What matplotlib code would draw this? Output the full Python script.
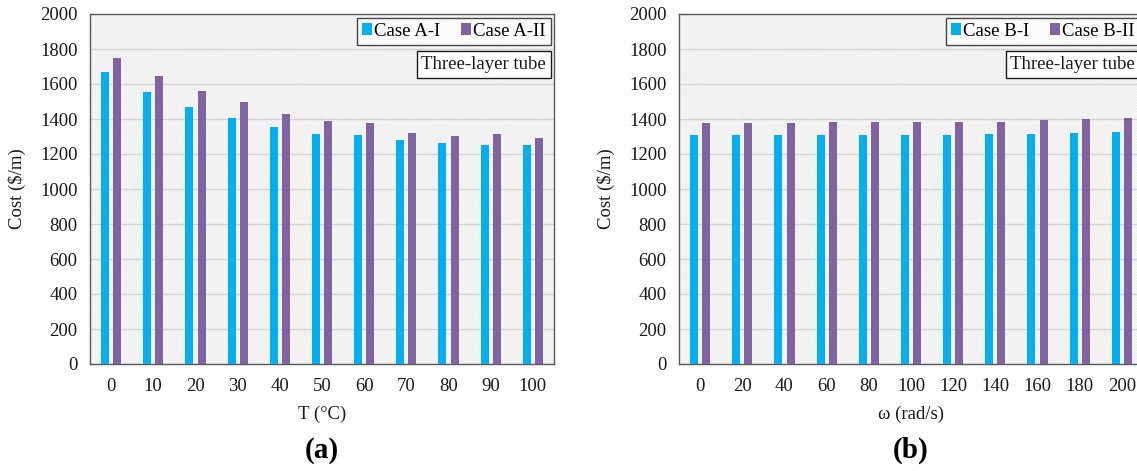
import matplotlib
matplotlib.use("Agg")
import matplotlib.pyplot as plt
from matplotlib.offsetbox import AnchoredText
import numpy as np

plt.rcParams['font.family'] = ['Liberation Serif', 'DejaVu Serif']
plt.rcParams['hatch.linewidth'] = 0.5

# Panel (a): cost vs temperature
temps = ['0', '10', '20', '30', '40', '50', '60', '70', '80', '90', '100']
case_a1 = [1670, 1555, 1470, 1405, 1355, 1315, 1310, 1280, 1260, 1250, 1250]
case_a2 = [1750, 1645, 1560, 1495, 1430, 1390, 1375, 1320, 1300, 1315, 1290]

# Panel (b): cost vs angular velocity
omegas = ['0', '20', '40', '60', '80', '100', '120', '140', '160', '180', '200']
case_b1 = [1310, 1310, 1310, 1310, 1310, 1310, 1310, 1315, 1315, 1320, 1325]
case_b2 = [1375, 1375, 1375, 1380, 1380, 1385, 1385, 1385, 1395, 1400, 1405]

blue = '#00b0f0'
purple = '#8064a2'
ink = '#1a1a1a'
fs = 13.5

W, H = 1137, 471
fig = plt.figure(figsize=(W / 100, H / 100), dpi=100)

def px(x0, y0, x1, y1):
    return [x0 / W, 1 - y1 / H, (x1 - x0) / W, (y1 - y0) / H]

ax_a = fig.add_axes(px(90, 14, 554, 364))
ax_b = fig.add_axes(px(679, 14, 1143, 364))

def draw(ax, cats, s1, s2, names, xlabel, tag):
    x = np.arange(len(cats))
    ax.patch.set_facecolor('#fcfcfc')
    ax.patch.set_hatch('\\' * 12)
    ax.patch.set_edgecolor('#e3e3e3')
    ax.set_axisbelow(True)
    ax.yaxis.grid(True, color='#d4d4d4', linewidth=1.0)
    bw = 0.19
    ax.bar(x - 0.145, s1, width=bw, color=blue, label=names[0], zorder=3)
    ax.bar(x + 0.145, s2, width=bw, color=purple, label=names[1], zorder=3)
    ax.set_xlim(-0.5, len(cats) - 0.5)
    ax.set_ylim(0, 2000)
    ax.set_yticks(np.arange(0, 2001, 200))
    ax.set_xticks(x)
    ax.set_xticklabels(cats)
    ax.tick_params(length=0, labelsize=fs, colors=ink)
    ax.tick_params(axis='x', pad=10)
    ax.tick_params(axis='y', pad=9)
    for s in ax.spines.values():
        s.set_color('#595959')
        s.set_linewidth(1.0)
    ax.set_ylabel('Cost (\\$/m)', fontsize=fs, labelpad=10, color=ink)
    leg = ax.legend(loc='upper right', ncol=2, frameon=True, fancybox=False,
                    fontsize=fs, handlelength=0.55, handleheight=0.55,
                    handletextpad=0.1, columnspacing=1.1, borderpad=0.28,
                    bbox_to_anchor=(0.993, 0.99), borderaxespad=0.0)
    leg.get_frame().set_edgecolor(ink)
    leg.get_frame().set_linewidth(1.0)
    at = AnchoredText('Three-layer tube', loc='upper right',
                      prop=dict(size=fs, color=ink), frameon=True,
                      bbox_to_anchor=(0.993, 0.893),
                      bbox_transform=ax.transAxes, borderpad=0.0, pad=0.25)
    at.patch.set_boxstyle('square,pad=0')
    at.patch.set_edgecolor(ink)
    at.patch.set_linewidth(1.0)
    ax.add_artist(at)
    ax.set_xlabel(xlabel, fontsize=fs, labelpad=8, color=ink)
    bb = ax.get_position()
    fig.text(bb.x0 + bb.width / 2, 1 - 450 / H, tag, ha='center', va='center',
             fontsize=21, fontweight='bold')

draw(ax_a, temps, case_a1, case_a2, ['Case A-I', 'Case A-II'], 'T (°C)', '(a)')
draw(ax_b, omegas, case_b1, case_b2, ['Case B-I', 'Case B-II'], 'ω (rad/s)', '(b)')
fig.texts[-1].set_x((679 + 1143) / 2 / W)

fig.savefig('out.png', dpi=100)
